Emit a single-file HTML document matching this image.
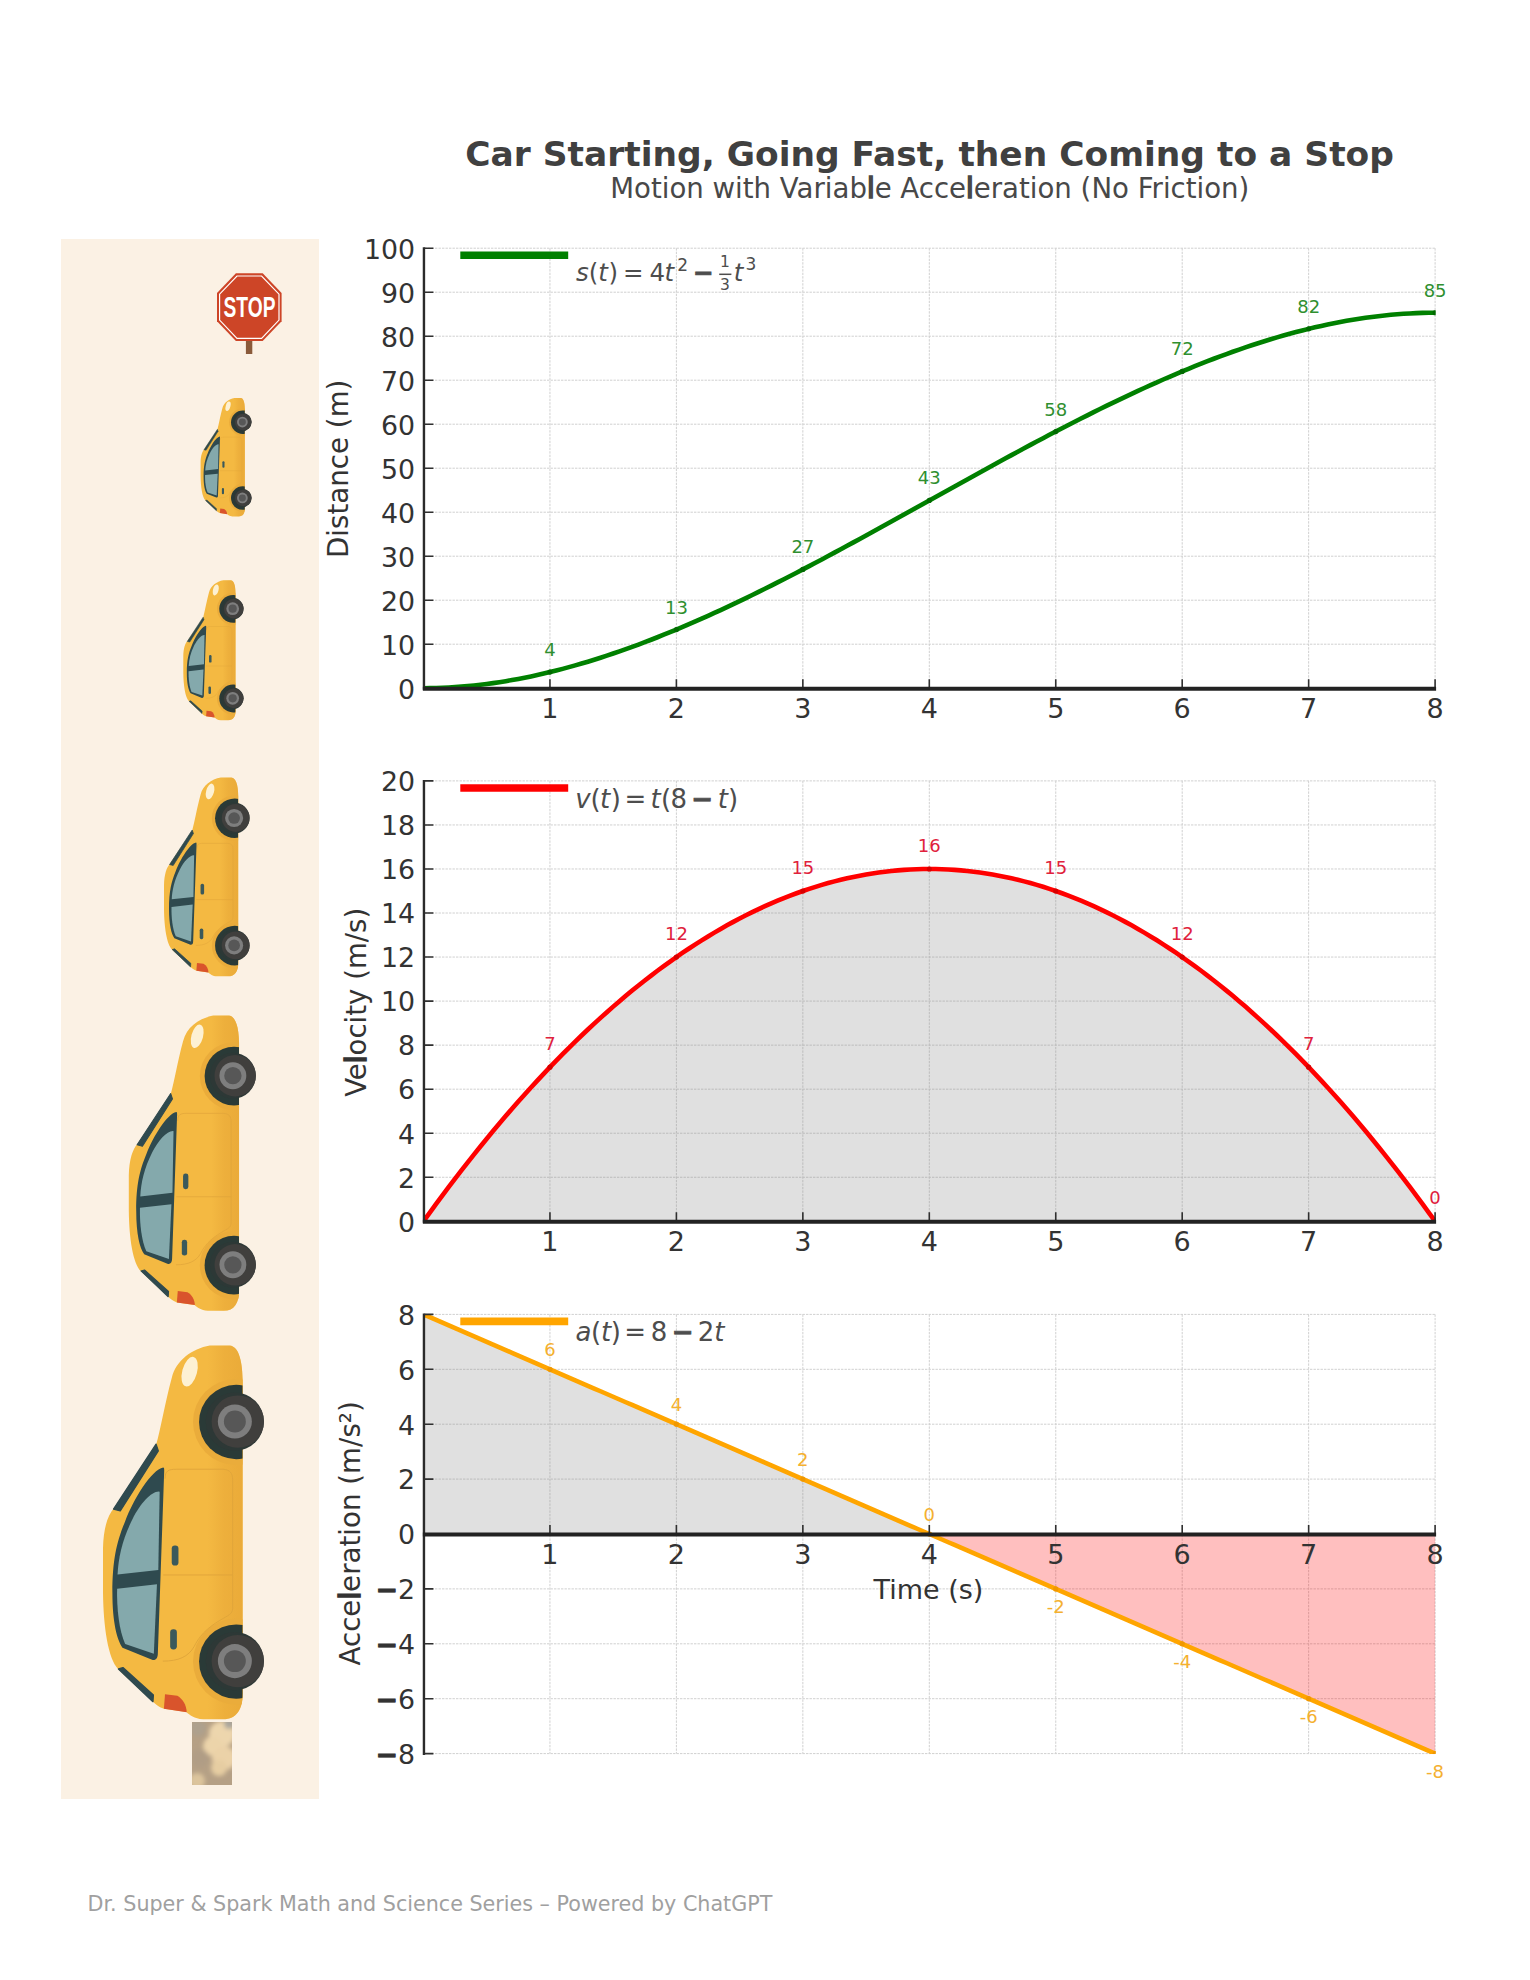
<!DOCTYPE html>
<html lang="en"><head><meta charset="utf-8"><title>Car Starting, Going Fast, then Coming to a Stop</title>
<style>html,body{margin:0;padding:0;background:#fff}svg{display:block}text{font-family:'DejaVu Sans','Liberation Sans',sans-serif}</style></head><body>
<svg width="1530" height="1980" viewBox="0 0 1530 1980">
<rect width="1530" height="1980" fill="#ffffff"/>
<defs>
<clipPath id="bodyclip"><path d="M640 145L730 145C765 150 785 200 787 300L787 1700C787 1770 760 1815 700 1815L610 1815C570 1812 550 1795 535 1782L435 1768C410 1760 395 1745 385 1735L232 1592C185 1545 165 1400 163 1250L163 1050C165 960 185 900 212 872L400 590C420 520 440 400 470 290C490 210 560 160 640 145Z"/></clipPath>
<clipPath id="smokeclip"><rect x="192" y="1722" width="40" height="63"/></clipPath>
<filter id="blur3" x="-20%" y="-20%" width="140%" height="140%"><feGaussianBlur stdDeviation="2.2"/></filter>
<linearGradient id="shade" x1="630" y1="0" x2="790" y2="0" gradientUnits="userSpaceOnUse"><stop offset="0" stop-color="#e7a636" stop-opacity="0"/><stop offset="0.45" stop-color="#e7a636" stop-opacity="0.5"/><stop offset="1" stop-color="#e7a636" stop-opacity="0.75"/></linearGradient>
<g id="car">
  <path d="M640 145L730 145C765 150 785 200 787 300L787 1700C787 1770 760 1815 700 1815L610 1815C570 1812 550 1795 535 1782L435 1768C410 1760 395 1745 385 1735L232 1592C185 1545 165 1400 163 1250L163 1050C165 960 185 900 212 872L400 590C420 520 440 400 470 290C490 210 560 160 640 145Z" fill="#f4b942"/>
  <g clip-path="url(#bodyclip)">
    <rect x="630" y="100" width="180" height="1750" fill="url(#shade)"/>
    <circle cx="757" cy="487" r="192" fill="#eaac3b"/>
    <circle cx="757" cy="1557" r="192" fill="#eaac3b"/>
    <circle cx="758" cy="487" r="166" fill="#2a3a37"/>
    <circle cx="758" cy="1557" r="166" fill="#2a3a37"/>
  </g>
  <path d="M440 740C440 705 455 698 490 698L700 698C730 700 742 715 742 745L742 1320C742 1345 720 1352 690 1370C620 1410 590 1450 570 1490C545 1535 500 1555 430 1555M742 1170L432 1170" fill="none" stroke="#dfa43a" stroke-width="4"/>
  <circle cx="752" cy="485" r="130" fill="#2d3836"/>
  <circle cx="752" cy="1555" r="130" fill="#2d3836"/>
  <circle cx="765" cy="485" r="117" fill="#403f3d"/>
  <circle cx="765" cy="1555" r="117" fill="#403f3d"/>
  <circle cx="752" cy="485" r="76" fill="#7e7e7e"/>
  <circle cx="752" cy="1555" r="76" fill="#7e7e7e"/>
  <circle cx="752" cy="485" r="49" fill="#575757"/>
  <circle cx="752" cy="1555" r="49" fill="#575757"/>
  <path d="M432 690C380 700 300 830 262 930C225 1020 205 1100 205 1250C205 1380 225 1460 250 1495L385 1550C400 1552 408 1540 408 1520L436 715C437 695 436 690 432 690Z" fill="#2f4a4f"/>
  <path d="M415 798C380 795 330 850 295 920C250 1010 232 1090 228 1168L410 1148L416 800Z" fill="#84a9ac"/>
  <path d="M226 1232L404 1212L390 1522L262 1478C235 1420 224 1320 226 1232Z" fill="#84a9ac"/>
  <path d="M400 586L410 616L240 884L210 876Z" fill="#2f4a4f" stroke="#2f4a4f" stroke-width="6" stroke-linejoin="round"/>
  <path d="M232 1590L252 1584L388 1706L386 1736Z" fill="#2f4a4f" stroke="#2f4a4f" stroke-width="6" stroke-linejoin="round"/>
  <rect x="470" y="1038" width="30" height="90" rx="14" fill="#3b595b"/>
  <rect x="463" y="1413" width="30" height="90" rx="14" fill="#3b595b"/>
  <ellipse cx="550" cy="262" rx="33" ry="68" transform="rotate(15 550 262)" fill="#fdf1d3"/>
  <path d="M440 1703L495 1710C520 1725 535 1750 537 1783L435 1768Z" fill="#d9542c"/>
</g>
</defs>

<rect x="61" y="239" width="258" height="1560" fill="#fbf1e4"/>
<g id="stopsign">
  <rect x="245.9" y="339" width="6.4" height="15" fill="#8a5a3a"/>
  <polygon points="235.9,273.3 262.7,273.3 281.6,293.1 281.6,321.2 262.7,341 235.9,341 217,321.2 217,293.1" fill="#cd4527"/>
  <polygon points="237,276 261.6,276 279,294.2 279,320.1 261.6,338.3 237,338.3 219.6,320.1 219.6,294.2" fill="none" stroke="#ffffff" stroke-width="1.2"/>
  <text x="249.5" y="316.9" text-anchor="middle" font-size="28.6" font-weight="bold" fill="#ffffff" textLength="52" lengthAdjust="spacingAndGlyphs" style="font-family:'Liberation Sans','DejaVu Sans',sans-serif">STOP</text>
</g>
<g id="smoke" clip-path="url(#smokeclip)">
  <rect x="188" y="1718" width="48" height="71" fill="#b5a085"/>
  <g filter="url(#blur3)">
    <circle cx="222" cy="1734" r="13" fill="#edd6ad"/>
    <circle cx="213" cy="1746" r="10" fill="#ecd4aa"/>
    <circle cx="224" cy="1758" r="12" fill="#ebd2a8"/>
    <circle cx="219" cy="1768" r="8" fill="#e6cda2"/>
    <circle cx="197" cy="1781" r="8" fill="#dcc49c"/>
    <circle cx="198" cy="1728" r="8" fill="#ada08d"/>
    <circle cx="229" cy="1724" r="5" fill="#a9a59c"/>
    <circle cx="200" cy="1758" r="9" fill="#b09d85"/>
  </g>
</g>
<use href="#car" transform="translate(189.04 387.66) scale(0.07093)"/>
<use href="#car" transform="translate(169.64 568.01) scale(0.08382)"/>
<use href="#car" transform="translate(144.60 760.28) scale(0.11904)"/>
<use href="#car" transform="translate(100 990) scale(0.17672)"/>
<use href="#car" transform="translate(66.51 1312.99) scale(0.22388)"/>

<text id="title" x="929.6" y="166" text-anchor="middle" font-size="34.45" font-weight="bold" fill="#404040">Car Starting, Going Fast, then Coming to a Stop</text>
<text id="subtitle" x="929.8" y="197.7" text-anchor="middle" font-size="27.6" fill="#484848">Motion with Variab<tspan stroke="#484848" stroke-width="1.7">l</tspan>e Acce<tspan stroke="#484848" stroke-width="1.7">l</tspan>eration (No Friction)</text>
<g id="chart1">
<path d="M549.95 248.20V688.20M676.40 248.20V688.20M802.85 248.20V688.20M929.30 248.20V688.20M1055.75 248.20V688.20M1182.20 248.20V688.20M1308.65 248.20V688.20M1435.10 248.20V688.20M424.50 688.20H1435.10M424.50 644.20H1435.10M424.50 600.20H1435.10M424.50 556.20H1435.10M424.50 512.20H1435.10M424.50 468.20H1435.10M424.50 424.20H1435.10M424.50 380.20H1435.10M424.50 336.20H1435.10M424.50 292.20H1435.10M424.50 248.20H1435.10" stroke="#d0d0d0" stroke-width="1" stroke-dasharray="2.4 1.1" fill="none"/>
<clipPath id="ax0"><rect x="423.50" y="248.20" width="1012.20" height="440.50"/></clipPath>
<g clip-path="url(#ax0)">
<path d="M423.50 688.20L429.82 688.16L436.14 688.03L442.47 687.81L448.79 687.51L455.11 687.12L461.44 686.66L467.76 686.11L474.08 685.48L480.40 684.77L486.73 683.98L493.05 683.12L499.37 682.18L505.69 681.17L512.01 680.08L518.34 678.92L524.66 677.69L530.98 676.38L537.31 675.01L543.63 673.57L549.95 672.07L556.27 670.49L562.60 668.86L568.92 667.15L575.24 665.39L581.56 663.56L587.88 661.68L594.21 659.73L600.53 657.73L606.85 655.67L613.17 653.55L619.50 651.38L625.82 649.15L632.14 646.87L638.47 644.54L644.79 642.16L651.11 639.73L657.43 637.25L663.75 634.72L670.08 632.15L676.40 629.53L682.72 626.87L689.05 624.17L695.37 621.42L701.69 618.63L708.01 615.81L714.34 612.94L720.66 610.04L726.98 607.10L733.30 604.12L739.62 601.12L745.95 598.08L752.27 595.00L758.59 591.90L764.91 588.76L771.24 585.60L777.56 582.41L783.88 579.20L790.20 575.95L796.53 572.69L802.85 569.40L809.17 566.09L815.50 562.76L821.82 559.41L828.14 556.04L834.46 552.65L840.78 549.24L847.11 545.82L853.43 542.39L859.75 538.94L866.08 535.48L872.40 532.01L878.72 528.53L885.04 525.04L891.37 521.55L897.69 518.04L904.01 514.53L910.33 511.02L916.65 507.51L922.98 503.99L929.30 500.47L935.62 496.95L941.94 493.43L948.27 489.91L954.59 486.40L960.91 482.89L967.24 479.39L973.56 475.89L979.88 472.40L986.20 468.92L992.52 465.45L998.85 461.99L1005.17 458.54L1011.49 455.11L1017.82 451.69L1024.14 448.29L1030.46 444.90L1036.78 441.53L1043.11 438.18L1049.43 434.84L1055.75 431.53L1062.07 428.24L1068.39 424.98L1074.72 421.74L1081.04 418.52L1087.36 415.33L1093.68 412.17L1100.01 409.04L1106.33 405.93L1112.65 402.86L1118.97 399.82L1125.30 396.81L1131.62 393.83L1137.94 390.90L1144.26 387.99L1150.59 385.13L1156.91 382.30L1163.23 379.51L1169.56 376.77L1175.88 374.06L1182.20 371.40L1188.52 368.78L1194.85 366.21L1201.17 363.68L1207.49 361.20L1213.81 358.77L1220.13 356.39L1226.46 354.06L1232.78 351.78L1239.10 349.56L1245.43 347.38L1251.75 345.27L1258.07 343.20L1264.39 341.20L1270.72 339.26L1277.04 337.37L1283.36 335.54L1289.68 333.78L1296.01 332.08L1302.33 330.44L1308.65 328.87L1314.97 327.36L1321.30 325.92L1327.62 324.55L1333.94 323.25L1340.26 322.01L1346.59 320.85L1352.91 319.77L1359.23 318.75L1365.55 317.81L1371.88 316.95L1378.20 316.16L1384.52 315.46L1390.84 314.83L1397.16 314.28L1403.49 313.81L1409.81 313.43L1416.13 313.12L1422.45 312.91L1428.78 312.78L1435.10 312.73" stroke="#008000" stroke-width="4.6" fill="none" stroke-linejoin="round"/>
<circle cx="549.95" cy="672.07" r="2.6" fill="#006a00"/>
<circle cx="676.40" cy="629.53" r="2.6" fill="#006a00"/>
<circle cx="802.85" cy="569.40" r="2.6" fill="#006a00"/>
<circle cx="929.30" cy="500.47" r="2.6" fill="#006a00"/>
<circle cx="1055.75" cy="431.53" r="2.6" fill="#006a00"/>
<circle cx="1182.20" cy="371.40" r="2.6" fill="#006a00"/>
<circle cx="1308.65" cy="328.87" r="2.6" fill="#006a00"/>
<circle cx="1435.10" cy="312.73" r="2.6" fill="#006a00"/>
</g>
<path d="M423.95 247.20V689.70" stroke="#2b2b2b" stroke-width="2.4"/>
<path d="M424.4 688.20h9M424.4 644.20h9M424.4 600.20h9M424.4 556.20h9M424.4 512.20h9M424.4 468.20h9M424.4 424.20h9M424.4 380.20h9M424.4 336.20h9M424.4 292.20h9M424.4 248.20h9M549.95 688.20v-9M676.40 688.20v-9M802.85 688.20v-9M929.30 688.20v-9M1055.75 688.20v-9M1182.20 688.20v-9M1308.65 688.20v-9M1435.10 688.20v-9" stroke="#303030" stroke-width="1.6" fill="none"/>
<path d="M422.85 688.65H1436.10" stroke="#222222" stroke-width="4"/>
<text x="415.1" y="698.50" text-anchor="end" font-size="26.8" fill="#333333">0</text>
<text x="415.1" y="654.50" text-anchor="end" font-size="26.8" fill="#333333">10</text>
<text x="415.1" y="610.50" text-anchor="end" font-size="26.8" fill="#333333">20</text>
<text x="415.1" y="566.50" text-anchor="end" font-size="26.8" fill="#333333">30</text>
<text x="415.1" y="522.50" text-anchor="end" font-size="26.8" fill="#333333">40</text>
<text x="415.1" y="478.50" text-anchor="end" font-size="26.8" fill="#333333">50</text>
<text x="415.1" y="434.50" text-anchor="end" font-size="26.8" fill="#333333">60</text>
<text x="415.1" y="390.50" text-anchor="end" font-size="26.8" fill="#333333">70</text>
<text x="415.1" y="346.50" text-anchor="end" font-size="26.8" fill="#333333">80</text>
<text x="415.1" y="302.50" text-anchor="end" font-size="26.8" fill="#333333">90</text>
<text x="415.1" y="258.50" text-anchor="end" font-size="26.8" fill="#333333">100</text>
<text x="549.95" y="717.80" text-anchor="middle" font-size="27" fill="#333333">1</text>
<text x="676.40" y="717.80" text-anchor="middle" font-size="27" fill="#333333">2</text>
<text x="802.85" y="717.80" text-anchor="middle" font-size="27" fill="#333333">3</text>
<text x="929.30" y="717.80" text-anchor="middle" font-size="27" fill="#333333">4</text>
<text x="1055.75" y="717.80" text-anchor="middle" font-size="27" fill="#333333">5</text>
<text x="1182.20" y="717.80" text-anchor="middle" font-size="27" fill="#333333">6</text>
<text x="1308.65" y="717.80" text-anchor="middle" font-size="27" fill="#333333">7</text>
<text x="1435.10" y="717.80" text-anchor="middle" font-size="27" fill="#333333">8</text>
<text x="549.95" y="656.07" text-anchor="middle" font-size="18" fill="#2f8f2f">4</text>
<text x="676.40" y="613.53" text-anchor="middle" font-size="18" fill="#2f8f2f">13</text>
<text x="802.85" y="553.40" text-anchor="middle" font-size="18" fill="#2f8f2f">27</text>
<text x="929.30" y="484.47" text-anchor="middle" font-size="18" fill="#2f8f2f">43</text>
<text x="1055.75" y="415.53" text-anchor="middle" font-size="18" fill="#2f8f2f">58</text>
<text x="1182.20" y="355.40" text-anchor="middle" font-size="18" fill="#2f8f2f">72</text>
<text x="1308.65" y="312.87" text-anchor="middle" font-size="18" fill="#2f8f2f">82</text>
<text x="1435.10" y="296.73" text-anchor="middle" font-size="18" fill="#2f8f2f">85</text>
</g>
<g id="chart2">
<path d="M549.95 780.90V1221.30M676.40 780.90V1221.30M802.85 780.90V1221.30M929.30 780.90V1221.30M1055.75 780.90V1221.30M1182.20 780.90V1221.30M1308.65 780.90V1221.30M1435.10 780.90V1221.30M424.50 1221.30H1435.10M424.50 1177.26H1435.10M424.50 1133.22H1435.10M424.50 1089.18H1435.10M424.50 1045.14H1435.10M424.50 1001.10H1435.10M424.50 957.06H1435.10M424.50 913.02H1435.10M424.50 868.98H1435.10M424.50 824.94H1435.10M424.50 780.90H1435.10" stroke="#d0d0d0" stroke-width="1" stroke-dasharray="2.4 1.1" fill="none"/>
<path d="M423.50 1221.30L423.50 1221.30L429.82 1212.55L436.14 1203.90L442.47 1195.37L448.79 1186.95L455.11 1178.64L461.44 1170.43L467.76 1162.34L474.08 1154.36L480.40 1146.49L486.73 1138.72L493.05 1131.07L499.37 1123.53L505.69 1116.10L512.01 1108.78L518.34 1101.57L524.66 1094.46L530.98 1087.47L537.31 1080.59L543.63 1073.82L549.95 1067.16L556.27 1060.61L562.60 1054.17L568.92 1047.84L575.24 1041.62L581.56 1035.51L587.88 1029.51L594.21 1023.62L600.53 1017.84L606.85 1012.17L613.17 1006.61L619.50 1001.16L625.82 995.82L632.14 990.59L638.47 985.47L644.79 980.46L651.11 975.56L657.43 970.77L663.75 966.09L670.08 961.52L676.40 957.06L682.72 952.71L689.05 948.47L695.37 944.34L701.69 940.32L708.01 936.42L714.34 932.62L720.66 928.93L726.98 925.35L733.30 921.88L739.62 918.52L745.95 915.28L752.27 912.14L758.59 909.11L764.91 906.19L771.24 903.39L777.56 900.69L783.88 898.10L790.20 895.62L796.53 893.26L802.85 891.00L809.17 888.85L815.50 886.82L821.82 884.89L828.14 883.07L834.46 881.37L840.78 879.77L847.11 878.28L853.43 876.91L859.75 875.64L866.08 874.48L872.40 873.44L878.72 872.50L885.04 871.68L891.37 870.96L897.69 870.36L904.01 869.86L910.33 869.48L916.65 869.20L922.98 869.04L929.30 868.98L935.62 869.04L941.94 869.20L948.27 869.48L954.59 869.86L960.91 870.36L967.24 870.96L973.56 871.68L979.88 872.50L986.20 873.44L992.52 874.48L998.85 875.64L1005.17 876.91L1011.49 878.28L1017.82 879.77L1024.14 881.37L1030.46 883.07L1036.78 884.89L1043.11 886.82L1049.43 888.85L1055.75 891.00L1062.07 893.26L1068.39 895.62L1074.72 898.10L1081.04 900.69L1087.36 903.39L1093.68 906.19L1100.01 909.11L1106.33 912.14L1112.65 915.28L1118.97 918.52L1125.30 921.88L1131.62 925.35L1137.94 928.93L1144.26 932.62L1150.59 936.42L1156.91 940.32L1163.23 944.34L1169.56 948.47L1175.88 952.71L1182.20 957.06L1188.52 961.52L1194.85 966.09L1201.17 970.77L1207.49 975.56L1213.81 980.46L1220.13 985.47L1226.46 990.59L1232.78 995.82L1239.10 1001.16L1245.43 1006.61L1251.75 1012.17L1258.07 1017.84L1264.39 1023.62L1270.72 1029.51L1277.04 1035.51L1283.36 1041.62L1289.68 1047.84L1296.01 1054.17L1302.33 1060.61L1308.65 1067.16L1314.97 1073.82L1321.30 1080.59L1327.62 1087.47L1333.94 1094.46L1340.26 1101.57L1346.59 1108.78L1352.91 1116.10L1359.23 1123.53L1365.55 1131.07L1371.88 1138.72L1378.20 1146.49L1384.52 1154.36L1390.84 1162.34L1397.16 1170.43L1403.49 1178.64L1409.81 1186.95L1416.13 1195.37L1422.45 1203.90L1428.78 1212.55L1435.10 1221.30L1435.10 1221.30Z" fill="#808080" fill-opacity="0.245"/>
<clipPath id="ax1"><rect x="423.50" y="780.90" width="1012.20" height="440.90"/></clipPath>
<g clip-path="url(#ax1)">
<path d="M423.50 1221.30L429.82 1212.55L436.14 1203.90L442.47 1195.37L448.79 1186.95L455.11 1178.64L461.44 1170.43L467.76 1162.34L474.08 1154.36L480.40 1146.49L486.73 1138.72L493.05 1131.07L499.37 1123.53L505.69 1116.10L512.01 1108.78L518.34 1101.57L524.66 1094.46L530.98 1087.47L537.31 1080.59L543.63 1073.82L549.95 1067.16L556.27 1060.61L562.60 1054.17L568.92 1047.84L575.24 1041.62L581.56 1035.51L587.88 1029.51L594.21 1023.62L600.53 1017.84L606.85 1012.17L613.17 1006.61L619.50 1001.16L625.82 995.82L632.14 990.59L638.47 985.47L644.79 980.46L651.11 975.56L657.43 970.77L663.75 966.09L670.08 961.52L676.40 957.06L682.72 952.71L689.05 948.47L695.37 944.34L701.69 940.32L708.01 936.42L714.34 932.62L720.66 928.93L726.98 925.35L733.30 921.88L739.62 918.52L745.95 915.28L752.27 912.14L758.59 909.11L764.91 906.19L771.24 903.39L777.56 900.69L783.88 898.10L790.20 895.62L796.53 893.26L802.85 891.00L809.17 888.85L815.50 886.82L821.82 884.89L828.14 883.07L834.46 881.37L840.78 879.77L847.11 878.28L853.43 876.91L859.75 875.64L866.08 874.48L872.40 873.44L878.72 872.50L885.04 871.68L891.37 870.96L897.69 870.36L904.01 869.86L910.33 869.48L916.65 869.20L922.98 869.04L929.30 868.98L935.62 869.04L941.94 869.20L948.27 869.48L954.59 869.86L960.91 870.36L967.24 870.96L973.56 871.68L979.88 872.50L986.20 873.44L992.52 874.48L998.85 875.64L1005.17 876.91L1011.49 878.28L1017.82 879.77L1024.14 881.37L1030.46 883.07L1036.78 884.89L1043.11 886.82L1049.43 888.85L1055.75 891.00L1062.07 893.26L1068.39 895.62L1074.72 898.10L1081.04 900.69L1087.36 903.39L1093.68 906.19L1100.01 909.11L1106.33 912.14L1112.65 915.28L1118.97 918.52L1125.30 921.88L1131.62 925.35L1137.94 928.93L1144.26 932.62L1150.59 936.42L1156.91 940.32L1163.23 944.34L1169.56 948.47L1175.88 952.71L1182.20 957.06L1188.52 961.52L1194.85 966.09L1201.17 970.77L1207.49 975.56L1213.81 980.46L1220.13 985.47L1226.46 990.59L1232.78 995.82L1239.10 1001.16L1245.43 1006.61L1251.75 1012.17L1258.07 1017.84L1264.39 1023.62L1270.72 1029.51L1277.04 1035.51L1283.36 1041.62L1289.68 1047.84L1296.01 1054.17L1302.33 1060.61L1308.65 1067.16L1314.97 1073.82L1321.30 1080.59L1327.62 1087.47L1333.94 1094.46L1340.26 1101.57L1346.59 1108.78L1352.91 1116.10L1359.23 1123.53L1365.55 1131.07L1371.88 1138.72L1378.20 1146.49L1384.52 1154.36L1390.84 1162.34L1397.16 1170.43L1403.49 1178.64L1409.81 1186.95L1416.13 1195.37L1422.45 1203.90L1428.78 1212.55L1435.10 1221.30" stroke="#ff0000" stroke-width="4.6" fill="none" stroke-linejoin="round"/>
<circle cx="549.95" cy="1067.16" r="2.6" fill="#d80000"/>
<circle cx="676.40" cy="957.06" r="2.6" fill="#d80000"/>
<circle cx="802.85" cy="891.00" r="2.6" fill="#d80000"/>
<circle cx="929.30" cy="868.98" r="2.6" fill="#d80000"/>
<circle cx="1055.75" cy="891.00" r="2.6" fill="#d80000"/>
<circle cx="1182.20" cy="957.06" r="2.6" fill="#d80000"/>
<circle cx="1308.65" cy="1067.16" r="2.6" fill="#d80000"/>
<circle cx="1435.10" cy="1221.30" r="2.6" fill="#d80000"/>
</g>
<path d="M423.95 779.90V1222.80" stroke="#2b2b2b" stroke-width="2.4"/>
<path d="M424.4 1221.30h9M424.4 1177.26h9M424.4 1133.22h9M424.4 1089.18h9M424.4 1045.14h9M424.4 1001.10h9M424.4 957.06h9M424.4 913.02h9M424.4 868.98h9M424.4 824.94h9M424.4 780.90h9M549.95 1221.30v-9M676.40 1221.30v-9M802.85 1221.30v-9M929.30 1221.30v-9M1055.75 1221.30v-9M1182.20 1221.30v-9M1308.65 1221.30v-9M1435.10 1221.30v-9" stroke="#303030" stroke-width="1.6" fill="none"/>
<path d="M422.85 1221.75H1436.10" stroke="#222222" stroke-width="4"/>
<text x="415.1" y="1231.60" text-anchor="end" font-size="26.8" fill="#333333">0</text>
<text x="415.1" y="1187.56" text-anchor="end" font-size="26.8" fill="#333333">2</text>
<text x="415.1" y="1143.52" text-anchor="end" font-size="26.8" fill="#333333">4</text>
<text x="415.1" y="1099.48" text-anchor="end" font-size="26.8" fill="#333333">6</text>
<text x="415.1" y="1055.44" text-anchor="end" font-size="26.8" fill="#333333">8</text>
<text x="415.1" y="1011.40" text-anchor="end" font-size="26.8" fill="#333333">10</text>
<text x="415.1" y="967.36" text-anchor="end" font-size="26.8" fill="#333333">12</text>
<text x="415.1" y="923.32" text-anchor="end" font-size="26.8" fill="#333333">14</text>
<text x="415.1" y="879.28" text-anchor="end" font-size="26.8" fill="#333333">16</text>
<text x="415.1" y="835.24" text-anchor="end" font-size="26.8" fill="#333333">18</text>
<text x="415.1" y="791.20" text-anchor="end" font-size="26.8" fill="#333333">20</text>
<text x="549.95" y="1250.90" text-anchor="middle" font-size="27" fill="#333333">1</text>
<text x="676.40" y="1250.90" text-anchor="middle" font-size="27" fill="#333333">2</text>
<text x="802.85" y="1250.90" text-anchor="middle" font-size="27" fill="#333333">3</text>
<text x="929.30" y="1250.90" text-anchor="middle" font-size="27" fill="#333333">4</text>
<text x="1055.75" y="1250.90" text-anchor="middle" font-size="27" fill="#333333">5</text>
<text x="1182.20" y="1250.90" text-anchor="middle" font-size="27" fill="#333333">6</text>
<text x="1308.65" y="1250.90" text-anchor="middle" font-size="27" fill="#333333">7</text>
<text x="1435.10" y="1250.90" text-anchor="middle" font-size="27" fill="#333333">8</text>
<text x="549.95" y="1050.16" text-anchor="middle" font-size="18" fill="#e0213c">7</text>
<text x="676.40" y="940.06" text-anchor="middle" font-size="18" fill="#e0213c">12</text>
<text x="802.85" y="874.00" text-anchor="middle" font-size="18" fill="#e0213c">15</text>
<text x="929.30" y="851.98" text-anchor="middle" font-size="18" fill="#e0213c">16</text>
<text x="1055.75" y="874.00" text-anchor="middle" font-size="18" fill="#e0213c">15</text>
<text x="1182.20" y="940.06" text-anchor="middle" font-size="18" fill="#e0213c">12</text>
<text x="1308.65" y="1050.16" text-anchor="middle" font-size="18" fill="#e0213c">7</text>
<text x="1435.10" y="1204.30" text-anchor="middle" font-size="18" fill="#e0213c">0</text>
</g>
<g id="chart3">
<path d="M549.95 1314.40V1753.60M676.40 1314.40V1753.60M802.85 1314.40V1753.60M929.30 1314.40V1753.60M1055.75 1314.40V1753.60M1182.20 1314.40V1753.60M1308.65 1314.40V1753.60M1435.10 1314.40V1753.60M424.50 1753.60H1435.10M424.50 1698.70H1435.10M424.50 1643.80H1435.10M424.50 1588.90H1435.10M424.50 1534.00H1435.10M424.50 1479.10H1435.10M424.50 1424.20H1435.10M424.50 1369.30H1435.10M424.50 1314.40H1435.10" stroke="#d0d0d0" stroke-width="1" stroke-dasharray="2.4 1.1" fill="none"/>
<path d="M423.50 1534.00L423.50 1314.40L929.30 1534.00Z" fill="#808080" fill-opacity="0.245"/>
<path d="M929.30 1534.00L1435.10 1534.00L1435.10 1753.60Z" fill="#ff0000" fill-opacity="0.25"/>
<clipPath id="ax2"><rect x="423.50" y="1314.40" width="1012.20" height="439.70"/></clipPath>
<g clip-path="url(#ax2)">
<path d="M423.50 1314.40L429.82 1317.14L436.14 1319.89L442.47 1322.63L448.79 1325.38L455.11 1328.12L461.44 1330.87L467.76 1333.62L474.08 1336.36L480.40 1339.11L486.73 1341.85L493.05 1344.60L499.37 1347.34L505.69 1350.09L512.01 1352.83L518.34 1355.58L524.66 1358.32L530.98 1361.07L537.31 1363.81L543.63 1366.56L549.95 1369.30L556.27 1372.05L562.60 1374.79L568.92 1377.54L575.24 1380.28L581.56 1383.03L587.88 1385.77L594.21 1388.52L600.53 1391.26L606.85 1394.01L613.17 1396.75L619.50 1399.49L625.82 1402.24L632.14 1404.98L638.47 1407.73L644.79 1410.47L651.11 1413.22L657.43 1415.96L663.75 1418.71L670.08 1421.45L676.40 1424.20L682.72 1426.94L689.05 1429.69L695.37 1432.43L701.69 1435.18L708.01 1437.92L714.34 1440.67L720.66 1443.41L726.98 1446.16L733.30 1448.90L739.62 1451.65L745.95 1454.39L752.27 1457.14L758.59 1459.88L764.91 1462.63L771.24 1465.38L777.56 1468.12L783.88 1470.87L790.20 1473.61L796.53 1476.36L802.85 1479.10L809.17 1481.85L815.50 1484.59L821.82 1487.34L828.14 1490.08L834.46 1492.83L840.78 1495.57L847.11 1498.32L853.43 1501.06L859.75 1503.81L866.08 1506.55L872.40 1509.30L878.72 1512.04L885.04 1514.79L891.37 1517.53L897.69 1520.28L904.01 1523.02L910.33 1525.77L916.65 1528.51L922.98 1531.26L929.30 1534.00L935.62 1536.74L941.94 1539.49L948.27 1542.24L954.59 1544.98L960.91 1547.72L967.24 1550.47L973.56 1553.21L979.88 1555.96L986.20 1558.70L992.52 1561.45L998.85 1564.19L1005.17 1566.94L1011.49 1569.68L1017.82 1572.43L1024.14 1575.17L1030.46 1577.92L1036.78 1580.66L1043.11 1583.41L1049.43 1586.15L1055.75 1588.90L1062.07 1591.64L1068.39 1594.39L1074.72 1597.13L1081.04 1599.88L1087.36 1602.62L1093.68 1605.37L1100.01 1608.12L1106.33 1610.86L1112.65 1613.61L1118.97 1616.35L1125.30 1619.10L1131.62 1621.84L1137.94 1624.59L1144.26 1627.33L1150.59 1630.08L1156.91 1632.82L1163.23 1635.57L1169.56 1638.31L1175.88 1641.06L1182.20 1643.80L1188.52 1646.55L1194.85 1649.29L1201.17 1652.04L1207.49 1654.78L1213.81 1657.53L1220.13 1660.27L1226.46 1663.01L1232.78 1665.76L1239.10 1668.51L1245.43 1671.25L1251.75 1673.99L1258.07 1676.74L1264.39 1679.49L1270.72 1682.23L1277.04 1684.97L1283.36 1687.72L1289.68 1690.46L1296.01 1693.21L1302.33 1695.95L1308.65 1698.70L1314.97 1701.44L1321.30 1704.19L1327.62 1706.93L1333.94 1709.68L1340.26 1712.42L1346.59 1715.17L1352.91 1717.91L1359.23 1720.66L1365.55 1723.40L1371.88 1726.15L1378.20 1728.89L1384.52 1731.64L1390.84 1734.38L1397.16 1737.13L1403.49 1739.88L1409.81 1742.62L1416.13 1745.37L1422.45 1748.11L1428.78 1750.86L1435.10 1753.60" stroke="#ffa500" stroke-width="4.6" fill="none" stroke-linejoin="round"/>
<circle cx="549.95" cy="1369.30" r="2.6" fill="#f09800"/>
<circle cx="676.40" cy="1424.20" r="2.6" fill="#f09800"/>
<circle cx="802.85" cy="1479.10" r="2.6" fill="#f09800"/>
<circle cx="929.30" cy="1534.00" r="2.6" fill="#f09800"/>
<circle cx="1055.75" cy="1588.90" r="2.6" fill="#f09800"/>
<circle cx="1182.20" cy="1643.80" r="2.6" fill="#f09800"/>
<circle cx="1308.65" cy="1698.70" r="2.6" fill="#f09800"/>
<circle cx="1435.10" cy="1753.60" r="2.6" fill="#f09800"/>
</g>
<path d="M423.95 1313.40V1755.10" stroke="#2b2b2b" stroke-width="2.4"/>
<path d="M424.4 1753.60h9M424.4 1698.70h9M424.4 1643.80h9M424.4 1588.90h9M424.4 1534.00h9M424.4 1479.10h9M424.4 1424.20h9M424.4 1369.30h9M424.4 1314.40h9M549.95 1534.00v-9M676.40 1534.00v-9M802.85 1534.00v-9M929.30 1534.00v-9M1055.75 1534.00v-9M1182.20 1534.00v-9M1308.65 1534.00v-9M1435.10 1534.00v-9" stroke="#303030" stroke-width="1.6" fill="none"/>
<path d="M422.85 1534.45H1436.10" stroke="#222222" stroke-width="4"/>
<text x="415.1" y="1763.90" text-anchor="end" font-size="26.8" fill="#333333"><tspan font-weight="bold" stroke="#333333" stroke-width="0.9">−</tspan>8</text>
<text x="415.1" y="1709.00" text-anchor="end" font-size="26.8" fill="#333333"><tspan font-weight="bold" stroke="#333333" stroke-width="0.9">−</tspan>6</text>
<text x="415.1" y="1654.10" text-anchor="end" font-size="26.8" fill="#333333"><tspan font-weight="bold" stroke="#333333" stroke-width="0.9">−</tspan>4</text>
<text x="415.1" y="1599.20" text-anchor="end" font-size="26.8" fill="#333333"><tspan font-weight="bold" stroke="#333333" stroke-width="0.9">−</tspan>2</text>
<text x="415.1" y="1544.30" text-anchor="end" font-size="26.8" fill="#333333">0</text>
<text x="415.1" y="1489.40" text-anchor="end" font-size="26.8" fill="#333333">2</text>
<text x="415.1" y="1434.50" text-anchor="end" font-size="26.8" fill="#333333">4</text>
<text x="415.1" y="1379.60" text-anchor="end" font-size="26.8" fill="#333333">6</text>
<text x="415.1" y="1324.70" text-anchor="end" font-size="26.8" fill="#333333">8</text>
<text x="549.95" y="1563.60" text-anchor="middle" font-size="27" fill="#333333">1</text>
<text x="676.40" y="1563.60" text-anchor="middle" font-size="27" fill="#333333">2</text>
<text x="802.85" y="1563.60" text-anchor="middle" font-size="27" fill="#333333">3</text>
<text x="929.30" y="1563.60" text-anchor="middle" font-size="27" fill="#333333">4</text>
<text x="1055.75" y="1563.60" text-anchor="middle" font-size="27" fill="#333333">5</text>
<text x="1182.20" y="1563.60" text-anchor="middle" font-size="27" fill="#333333">6</text>
<text x="1308.65" y="1563.60" text-anchor="middle" font-size="27" fill="#333333">7</text>
<text x="1435.10" y="1563.60" text-anchor="middle" font-size="27" fill="#333333">8</text>
<text x="549.95" y="1356.30" text-anchor="middle" font-size="18" fill="#f4b030">6</text>
<text x="676.40" y="1411.20" text-anchor="middle" font-size="18" fill="#f4b030">4</text>
<text x="802.85" y="1466.10" text-anchor="middle" font-size="18" fill="#f4b030">2</text>
<text x="929.30" y="1521.00" text-anchor="middle" font-size="18" fill="#f4b030">0</text>
<text x="1055.75" y="1612.90" text-anchor="middle" font-size="18" fill="#f4b030">-2</text>
<text x="1182.20" y="1667.80" text-anchor="middle" font-size="18" fill="#f4b030">-4</text>
<text x="1308.65" y="1722.70" text-anchor="middle" font-size="18" fill="#f4b030">-6</text>
<text x="1435.10" y="1777.60" text-anchor="middle" font-size="18" fill="#f4b030">-8</text>
</g>
<path d="M460.3 255.2H568.2" stroke="#008000" stroke-width="7.6"/>
<path d="M460.3 788.0H568.2" stroke="#ff0000" stroke-width="7.6"/>
<path d="M460.3 1321.4H568.2" stroke="#ffa500" stroke-width="7.6"/>
<text id="leg1" fill="#4d4d4d"><tspan x="576.02" y="280.60" font-size="24.5" font-style="italic">s</tspan><tspan x="588.79" y="280.60" font-size="24.5">(</tspan><tspan x="598.23" y="280.60" font-size="24.5" font-style="italic">t</tspan><tspan x="608.54" y="280.60" font-size="24.5">)</tspan><tspan x="623.00" y="280.60" font-size="24.5">=</tspan><tspan x="649.60" y="280.60" font-size="24.5">4</tspan><tspan x="664.53" y="280.60" font-size="24.5" font-style="italic">t</tspan><tspan x="677.25" y="270.60" font-size="17.0">2</tspan><tspan x="692.90" y="281.20" font-size="24.5" font-weight="bold" stroke="#4d4d4d" stroke-width="0.9">−</tspan><tspan x="720.10" y="267.40" font-size="15.5">1</tspan><tspan x="720.02" y="289.90" font-size="15.5">3</tspan><tspan x="733.83" y="280.60" font-size="24.5" font-style="italic">t</tspan><tspan x="745.41" y="270.00" font-size="17.0">3</tspan></text>
<path d="M719.2 274.3H731.4" stroke="#4d4d4d" stroke-width="1.5"/>
<text id="leg2" fill="#4d4d4d"><tspan x="575.33" y="808.00" font-size="26.0" font-style="italic">v</tspan><tspan x="590.57" y="808.00" font-size="26.0">(</tspan><tspan x="600.04" y="808.00" font-size="26.0" font-style="italic">t</tspan><tspan x="610.72" y="808.00" font-size="26.0">)</tspan><tspan x="624.45" y="808.00" font-size="26.0">=</tspan><tspan x="650.54" y="808.00" font-size="26.0" font-style="italic">t</tspan><tspan x="661.07" y="808.00" font-size="26.0">(</tspan><tspan x="670.44" y="808.00" font-size="26.0">8</tspan><tspan x="691.15" y="808.00" font-size="26.0" font-weight="bold" stroke="#4d4d4d" stroke-width="0.9">−</tspan><tspan x="717.74" y="808.00" font-size="26.0" font-style="italic">t</tspan><tspan x="727.92" y="808.00" font-size="26.0">)</tspan></text>
<text id="leg3" fill="#4d4d4d"><tspan x="575.43" y="1341.20" font-size="26.0" font-style="italic">a</tspan><tspan x="590.97" y="1341.20" font-size="26.0">(</tspan><tspan x="600.94" y="1341.20" font-size="26.0" font-style="italic">t</tspan><tspan x="610.82" y="1341.20" font-size="26.0">)</tspan><tspan x="624.25" y="1341.20" font-size="26.0">=</tspan><tspan x="650.84" y="1341.20" font-size="26.0">8</tspan><tspan x="671.85" y="1341.20" font-size="26.0" font-weight="bold" stroke="#4d4d4d" stroke-width="0.9">−</tspan><tspan x="697.80" y="1341.20" font-size="26.0">2</tspan><tspan x="714.24" y="1341.20" font-size="26.0" font-style="italic">t</tspan></text>
<text transform="translate(348.3 468.8) rotate(-90)" text-anchor="middle" font-size="27.7" fill="#333333">Distance (m)</text>
<text transform="translate(366.1 1002.3) rotate(-90)" text-anchor="middle" font-size="27.6" fill="#333333">Ve<tspan stroke="#333333" stroke-width="1.7">l</tspan>ocity (m/s)</text>
<text transform="translate(360 1533.4) rotate(-90)" text-anchor="middle" font-size="27.7" fill="#333333">Acce<tspan stroke="#333333" stroke-width="1.7">l</tspan>eration (m/s²)</text>
<text x="928.5" y="1599.4" text-anchor="middle" font-size="27" fill="#333333">Time (s)</text>
<text id="footer" x="87.6" y="1911" font-size="20.68" fill="#a0a0a0">Dr. Super &amp; Spark Math and Science Series – Powered by ChatGPT</text>
</svg></body></html>
